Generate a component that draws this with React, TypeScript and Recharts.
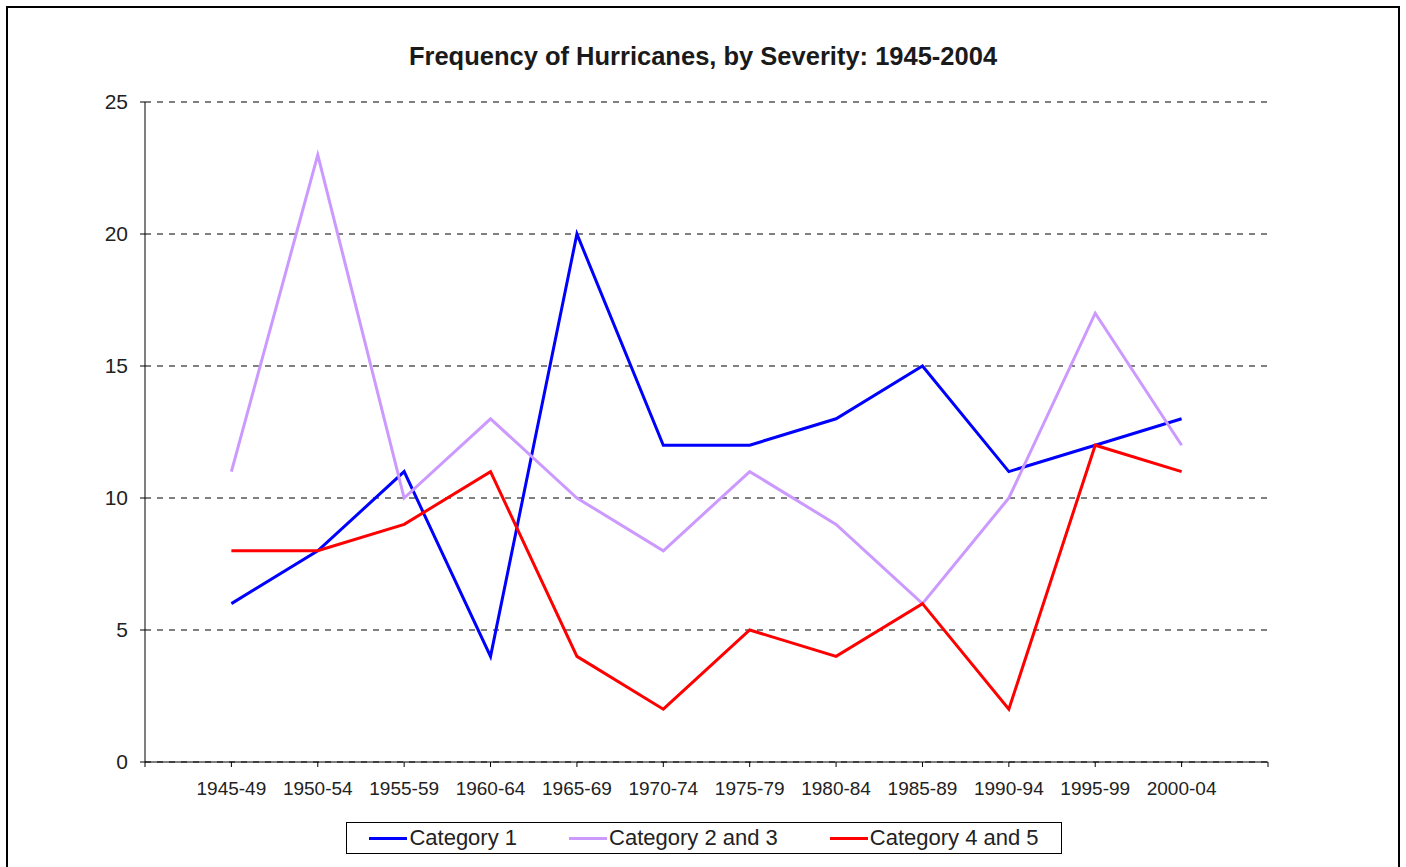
import { LineChart, Line, XAxis, YAxis, CartesianGrid } from 'recharts';

const periods = [
  '1945-49', '1950-54', '1955-59', '1960-64', '1965-69', '1970-74',
  '1975-79', '1980-84', '1985-89', '1990-94', '1995-99', '2000-04',
];
const category1 = [6, 8, 11, 4, 20, 12, 12, 13, 15, 11, 12, 13];
const category23 = [11, 23, 10, 13, 10, 8, 11, 9, 6, 10, 17, 12];
const category45 = [8, 8, 9, 11, 4, 2, 5, 4, 6, 2, 12, 11];
const yTicks = [0, 5, 10, 15, 20, 25];

const series = [
  { key: 'cat1', name: 'Category 1', color: '#0000FF' },
  { key: 'cat23', name: 'Category 2 and 3', color: '#CC99FF' },
  { key: 'cat45', name: 'Category 4 and 5', color: '#FF0000' },
];

// x is numeric so the axis gets end ticks at 0 and 13 like the original
const data = periods.map((period, i) => ({
  idx: i + 1,
  period,
  cat1: category1[i],
  cat23: category23[i],
  cat45: category45[i],
}));
const xTicks = [0, ...data.map((d) => d.idx), periods.length + 1];

const FONT = '"Liberation Sans", Arial, sans-serif';

export default function App() {
  return (
    <div style={{ position: 'relative', width: 1406, height: 867, fontFamily: FONT }}>
      <style>{`body{margin:0;overflow:hidden;background:#fff}`}</style>
      {/* outer frame, bottom edge runs off the page */}
      <div
        style={{
          position: 'absolute', left: 6, top: 6, width: 1394, height: 900,
          border: '2px solid #000', boxSizing: 'border-box',
        }}
      />
      <div
        style={{
          position: 'absolute', left: 0, top: 42, width: 1406, textAlign: 'center',
          fontSize: 25.5, fontWeight: 'bold', color: '#1a1a1a',
        }}
      >
        Frequency of Hurricanes, by Severity: 1945-2004
      </div>

      <div style={{ position: 'absolute', left: 0, top: 0 }}>
        <LineChart width={1406} height={867} data={data} margin={{ top: 102, right: 138, left: 0, bottom: 45 }}>
          <CartesianGrid vertical={false} stroke="#000" strokeDasharray="6 6" />
          <XAxis
            type="number"
            dataKey="idx"
            domain={[0, periods.length + 1]}
            ticks={xTicks}
            interval={0}
            height={60}
            tickSize={5}
            tickMargin={15}
            stroke="#000"
            tick={{ fill: '#222', fontSize: 19, fontFamily: FONT }}
            tickFormatter={(v: number) => periods[v - 1] ?? ''}
          />
          <YAxis
            width={145}
            domain={[0, 25]}
            ticks={yTicks}
            interval={0}
            tickSize={5}
            tickMargin={12}
            stroke="#000"
            tick={{ fill: '#222', fontSize: 21, fontFamily: FONT }}
          />
          {series.map((s) => (
            <Line
              key={s.key}
              type="linear"
              dataKey={s.key}
              name={s.name}
              stroke={s.color}
              strokeWidth={3}
              dot={false}
              activeDot={false}
              isAnimationActive={false}
            />
          ))}
        </LineChart>
      </div>

      {/* legend box */}
      <div
        style={{
          position: 'absolute', left: 346, top: 822, width: 716, height: 32,
          border: '1px solid #000', boxSizing: 'border-box', background: '#fff',
          display: 'flex', alignItems: 'center', justifyContent: 'center', gap: 52,
          fontSize: 22, color: '#222',
        }}
      >
        {series.map((s) => (
          <div key={s.key} style={{ display: 'flex', alignItems: 'center' }}>
            <span style={{ display: 'inline-block', width: 38, height: 3, background: s.color, marginRight: 2 }} />
            <span>{s.name}</span>
          </div>
        ))}
      </div>
    </div>
  );
}
